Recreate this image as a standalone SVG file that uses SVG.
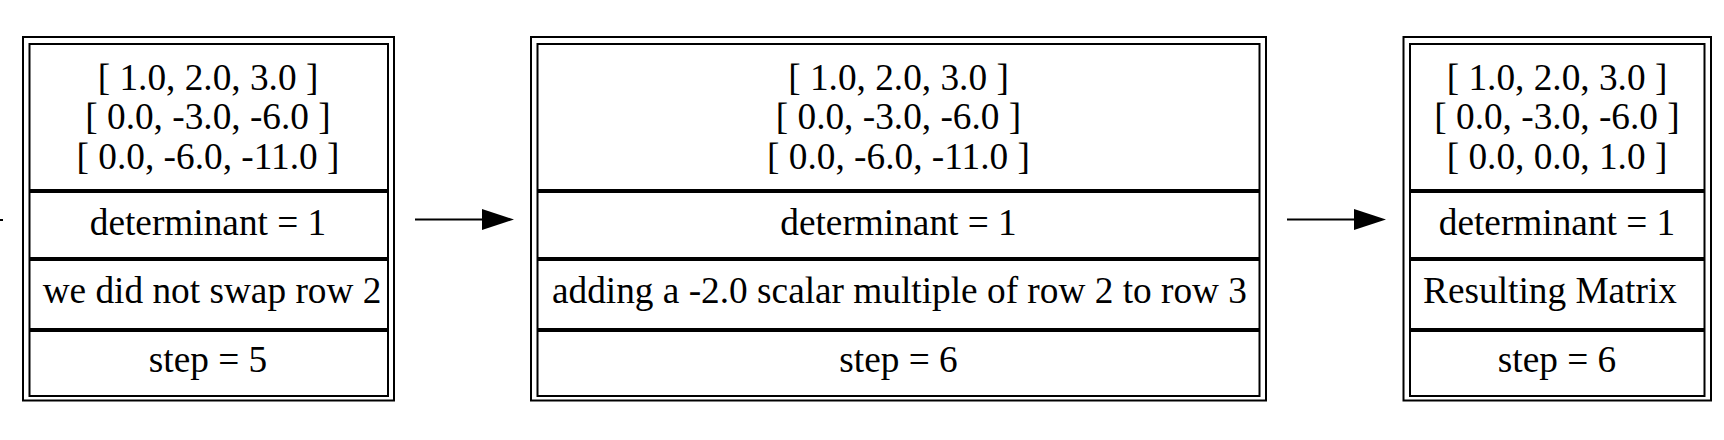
<svg xmlns="http://www.w3.org/2000/svg" width="1724" height="440" viewBox="0 0 1724 440">
<style>
.o{fill:none;stroke:#000;stroke-width:2}
.c{fill:none;stroke:#000;stroke-width:2}
text{font-family:"Liberation Serif","Times New Roman",serif;font-size:37.3px;fill:#000;text-anchor:middle}
.e{fill:none;stroke:#000;stroke-width:2}
</style>
<defs>
<marker id="ah" markerUnits="userSpaceOnUse" markerWidth="32" markerHeight="22" refX="0" refY="11" orient="auto">
<path d="M0,0.5 L32,11 L0,21.5 z" fill="#000"/>
</marker>
</defs>
<rect width="1724" height="440" fill="#fff"/>
<g id="connectors">
<line class="e" x1="0" y1="220" x2="3" y2="220"/>
<line class="e" x1="415" y1="219.5" x2="482" y2="219.5" marker-end="url(#ah)"/>
<line class="e" x1="1287" y1="219.5" x2="1354" y2="219.5" marker-end="url(#ah)"/>
</g>
<g id="node1">
<rect class="o" x="23" y="37" width="371" height="363.5"/>
<rect class="c" x="29.5" y="44" width="358.5" height="146"/>
<rect class="c" x="29.5" y="192" width="358.5" height="66"/>
<rect class="c" x="29.5" y="260" width="358.5" height="69"/>
<rect class="c" x="29.5" y="331" width="358.5" height="65"/>
<text x="208" y="89.5">[ 1.0, 2.0, 3.0 ]</text>
<text x="208" y="129">[ 0.0, -3.0, -6.0 ]</text>
<text x="208" y="168.5">[ 0.0, -6.0, -11.0 ]</text>
<text x="208" y="235">determinant = 1</text>
<text x="212" y="303">we did not swap row 2</text>
<text x="208" y="372">step = 5</text>
</g>
<g id="node2">
<rect class="o" x="531" y="37" width="735" height="363.5"/>
<rect class="c" x="537.5" y="44" width="722" height="146"/>
<rect class="c" x="537.5" y="192" width="722" height="66"/>
<rect class="c" x="537.5" y="260" width="722" height="69"/>
<rect class="c" x="537.5" y="331" width="722" height="65"/>
<text x="898.5" y="89.5">[ 1.0, 2.0, 3.0 ]</text>
<text x="898.5" y="129">[ 0.0, -3.0, -6.0 ]</text>
<text x="898.5" y="168.5">[ 0.0, -6.0, -11.0 ]</text>
<text x="898.5" y="235">determinant = 1</text>
<text x="899.5" y="303">adding a -2.0 scalar multiple of row 2 to row 3</text>
<text x="898.5" y="372">step = 6</text>
</g>
<g id="node3">
<rect class="o" x="1403.5" y="37" width="307.5" height="363.5"/>
<rect class="c" x="1410" y="44" width="294.5" height="146"/>
<rect class="c" x="1410" y="192" width="294.5" height="66"/>
<rect class="c" x="1410" y="260" width="294.5" height="69"/>
<rect class="c" x="1410" y="331" width="294.5" height="65"/>
<text x="1557" y="89.5">[ 1.0, 2.0, 3.0 ]</text>
<text x="1557" y="129">[ 0.0, -3.0, -6.0 ]</text>
<text x="1557" y="168.5">[ 0.0, 0.0, 1.0 ]</text>
<text x="1557" y="235">determinant = 1</text>
<text x="1550" y="303">Resulting Matrix</text>
<text x="1557" y="372">step = 6</text>
</g>
</svg>
